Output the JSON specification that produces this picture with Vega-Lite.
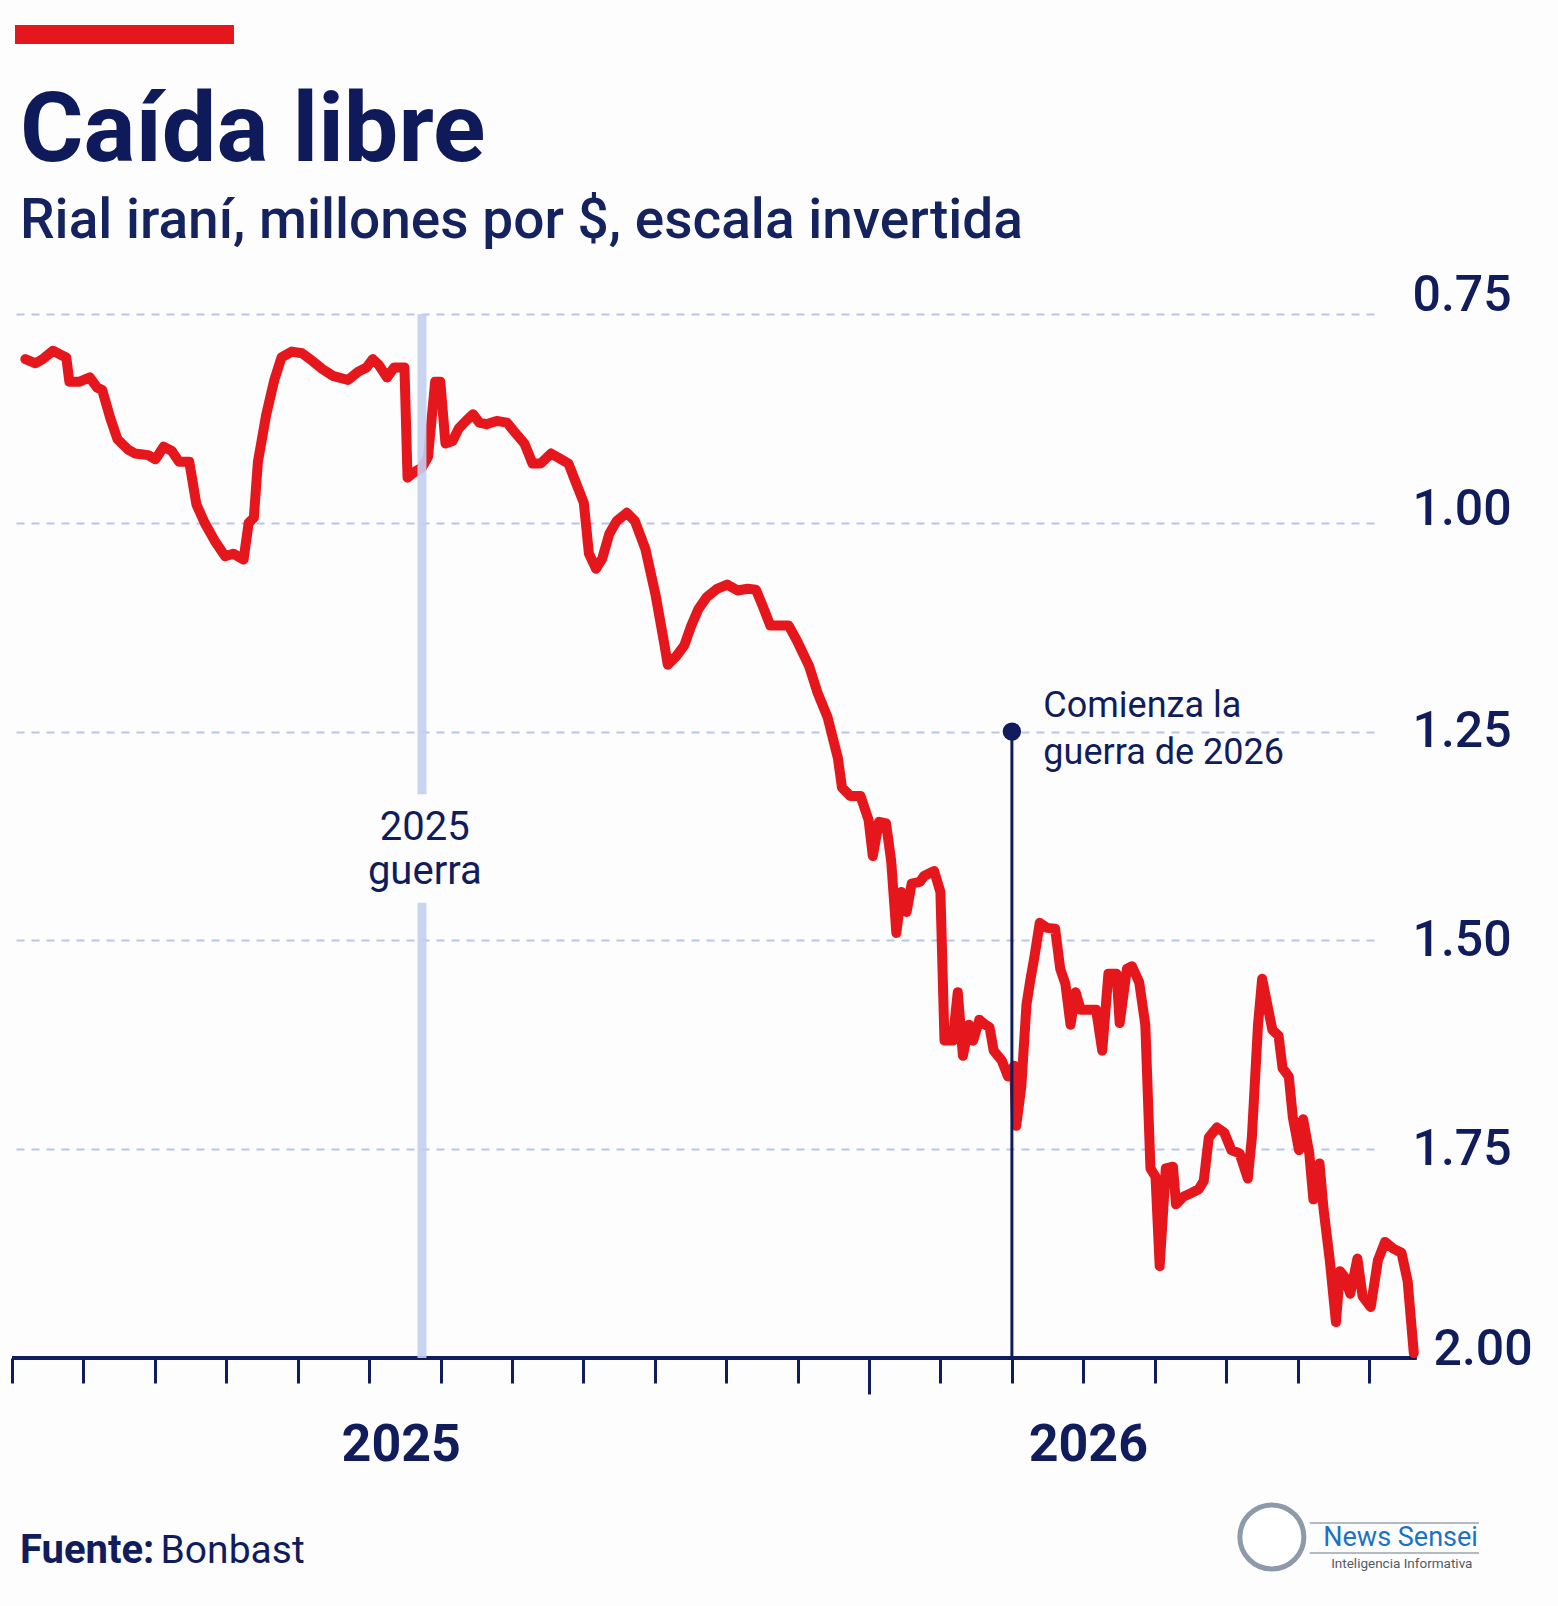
{
  "$schema": "https://vega.github.io/schema/vega-lite/v6.json",
  "autosize": {"type": "none"},
  "width": 1362,
  "height": 1044,
  "padding": {"left": 12, "top": 314, "right": 184, "bottom": 248},
  "background": "#fdfdfe",
  "datasets": {
    "rial": [
      {"x":0.187,"y":0.804},{"x":0.330,"y":0.809},{"x":0.430,"y":0.804},{"x":0.574,"y":0.794},{"x":0.689,"y":0.799},
      {"x":0.760,"y":0.802},{"x":0.803,"y":0.831},{"x":0.947,"y":0.831},{"x":1.090,"y":0.826},{"x":1.191,"y":0.838},
      {"x":1.263,"y":0.841},{"x":1.377,"y":0.875},{"x":1.478,"y":0.900},{"x":1.621,"y":0.912},{"x":1.722,"y":0.917},
      {"x":1.908,"y":0.919},{"x":2.009,"y":0.924},{"x":2.123,"y":0.909},{"x":2.238,"y":0.914},{"x":2.339,"y":0.927},
      {"x":2.482,"y":0.927},{"x":2.582,"y":0.978},{"x":2.697,"y":1.000},{"x":2.841,"y":1.022},{"x":2.984,"y":1.040},
      {"x":3.099,"y":1.037},{"x":3.242,"y":1.044},{"x":3.314,"y":1.000},{"x":3.386,"y":0.994},{"x":3.443,"y":0.927},
      {"x":3.558,"y":0.871},{"x":3.673,"y":0.829},{"x":3.773,"y":0.802},{"x":3.917,"y":0.795},{"x":4.060,"y":0.797},
      {"x":4.204,"y":0.806},{"x":4.347,"y":0.816},{"x":4.491,"y":0.824},{"x":4.706,"y":0.829},{"x":4.849,"y":0.819},
      {"x":4.964,"y":0.814},{"x":5.050,"y":0.804},{"x":5.136,"y":0.811},{"x":5.251,"y":0.826},{"x":5.351,"y":0.814},
      {"x":5.495,"y":0.814},{"x":5.538,"y":0.946},{"x":5.638,"y":0.939},{"x":5.739,"y":0.934},{"x":5.825,"y":0.921},
      {"x":5.925,"y":0.831},{"x":5.997,"y":0.831},{"x":6.069,"y":0.905},{"x":6.169,"y":0.902},{"x":6.255,"y":0.887},
      {"x":6.356,"y":0.878},{"x":6.456,"y":0.870},{"x":6.542,"y":0.880},{"x":6.643,"y":0.882},{"x":6.786,"y":0.878},
      {"x":6.930,"y":0.880},{"x":7.073,"y":0.895},{"x":7.174,"y":0.905},{"x":7.288,"y":0.929},{"x":7.403,"y":0.929},
      {"x":7.547,"y":0.917},{"x":7.690,"y":0.924},{"x":7.791,"y":0.929},{"x":7.891,"y":0.951},{"x":8.006,"y":0.976},
      {"x":8.078,"y":1.037},{"x":8.178,"y":1.055},{"x":8.264,"y":1.043},{"x":8.364,"y":1.013},{"x":8.465,"y":0.998},
      {"x":8.608,"y":0.988},{"x":8.723,"y":0.998},{"x":8.867,"y":1.031},{"x":9.010,"y":1.086},{"x":9.125,"y":1.141},
      {"x":9.182,"y":1.170},{"x":9.297,"y":1.160},{"x":9.412,"y":1.147},{"x":9.512,"y":1.123},{"x":9.613,"y":1.103},
      {"x":9.727,"y":1.089},{"x":9.871,"y":1.079},{"x":10.014,"y":1.074},{"x":10.158,"y":1.081},{"x":10.301,"y":1.079},
      {"x":10.416,"y":1.080},{"x":10.517,"y":1.101},{"x":10.617,"y":1.123},{"x":10.760,"y":1.123},{"x":10.875,"y":1.123},
      {"x":10.990,"y":1.141},{"x":11.162,"y":1.172},{"x":11.277,"y":1.203},{"x":11.420,"y":1.233},{"x":11.564,"y":1.282},
      {"x":11.621,"y":1.317},{"x":11.736,"y":1.327},{"x":11.880,"y":1.327},{"x":11.994,"y":1.356},{"x":12.052,"y":1.399},
      {"x":12.138,"y":1.358},{"x":12.238,"y":1.360},{"x":12.310,"y":1.405},{"x":12.382,"y":1.491},{"x":12.453,"y":1.442},
      {"x":12.525,"y":1.466},{"x":12.597,"y":1.432},{"x":12.712,"y":1.430},{"x":12.769,"y":1.423},{"x":12.912,"y":1.417},
      {"x":12.999,"y":1.442},{"x":13.056,"y":1.620},{"x":13.171,"y":1.620},{"x":13.242,"y":1.562},{"x":13.314,"y":1.638},
      {"x":13.400,"y":1.601},{"x":13.458,"y":1.620},{"x":13.544,"y":1.595},{"x":13.630,"y":1.601},{"x":13.687,"y":1.604},
      {"x":13.745,"y":1.632},{"x":13.859,"y":1.644},{"x":13.945,"y":1.663},{"x":14.032,"y":1.650},{"x":14.060,"y":1.722},
      {"x":14.132,"y":1.675},{"x":14.204,"y":1.577},{"x":14.261,"y":1.546},{"x":14.319,"y":1.518},{"x":14.390,"y":1.479},
      {"x":14.491,"y":1.485},{"x":14.605,"y":1.486},{"x":14.677,"y":1.534},{"x":14.749,"y":1.552},{"x":14.821,"y":1.601},
      {"x":14.892,"y":1.562},{"x":14.964,"y":1.583},{"x":15.065,"y":1.583},{"x":15.179,"y":1.583},{"x":15.265,"y":1.632},
      {"x":15.351,"y":1.540},{"x":15.466,"y":1.540},{"x":15.509,"y":1.599},{"x":15.610,"y":1.534},{"x":15.681,"y":1.531},
      {"x":15.782,"y":1.550},{"x":15.868,"y":1.601},{"x":15.940,"y":1.773},{"x":16.011,"y":1.783},{"x":16.069,"y":1.890},
      {"x":16.155,"y":1.773},{"x":16.255,"y":1.771},{"x":16.298,"y":1.816},{"x":16.399,"y":1.807},{"x":16.499,"y":1.803},
      {"x":16.614,"y":1.798},{"x":16.686,"y":1.788},{"x":16.757,"y":1.736},{"x":16.872,"y":1.724},{"x":16.973,"y":1.730},
      {"x":17.073,"y":1.751},{"x":17.188,"y":1.755},{"x":17.303,"y":1.785},{"x":17.360,"y":1.736},{"x":17.446,"y":1.601},
      {"x":17.504,"y":1.546},{"x":17.590,"y":1.583},{"x":17.647,"y":1.607},{"x":17.733,"y":1.614},{"x":17.790,"y":1.653},
      {"x":17.877,"y":1.663},{"x":17.934,"y":1.712},{"x":18.020,"y":1.751},{"x":18.077,"y":1.714},{"x":18.164,"y":1.755},
      {"x":18.221,"y":1.810},{"x":18.307,"y":1.767},{"x":18.364,"y":1.822},{"x":18.451,"y":1.883},{"x":18.537,"y":1.957},
      {"x":18.594,"y":1.896},{"x":18.651,"y":1.902},{"x":18.737,"y":1.923},{"x":18.838,"y":1.881},{"x":18.910,"y":1.926},
      {"x":19.024,"y":1.939},{"x":19.125,"y":1.883},{"x":19.225,"y":1.861},{"x":19.340,"y":1.869},{"x":19.455,"y":1.874},
      {"x":19.541,"y":1.908},{"x":19.627,"y":1.994}
    ]
  },
  "encoding": {
    "x": {
      "field": "x",
      "type": "quantitative",
      "scale": {"domain": [0, 19.07], "nice": false, "zero": false},
      "axis": {
        "orient": "bottom",
        "values": [0,1,2,3,4,5,6,7,8,9,10,11,12,13,14,15,16,17,18,19],
        "labels": false,
        "domain": false,
        "grid": false,
        "ticks": true,
        "tickColor": "#101c5c",
        "tickWidth": 3,
        "tickSize": {"condition": {"test": "datum.value === 12", "value": 36}, "value": 25},
        "title": null
      }
    },
    "y": {
      "field": "y",
      "type": "quantitative",
      "scale": {"domain": [0.75, 2.0], "reverse": true, "nice": false, "zero": false},
      "axis": {
        "orient": "right",
        "values": [0.75, 1, 1.25, 1.5, 1.75, 2],
        "format": ".2f",
        "domain": false,
        "ticks": false,
        "grid": true,
        "gridColor": "#b9c6ec",
        "gridDash": [8, 7],
        "gridWidth": 2,
        "labelFont": "Roboto",
        "labelFontSize": 50,
        "labelFontWeight": 500,
        "labelColor": "#101c5c",
        "labelAlign": "left",
        "labelBaseline": "middle",
        "labelPadding": {"condition": {"test": "datum.value === 2", "value": 59}, "value": 38},
        "labelOffset": {"condition": [
          {"test": "datum.value === 0.75", "value": -19},
          {"test": "datum.value === 1", "value": -13},
          {"test": "datum.value === 2", "value": -9}
        ], "value": 0},
        "title": null
      }
    }
  },
  "layer": [
    {
      "data": {"values": [{"x": 0, "x2": 19.67, "y": 2.0}]},
      "mark": {"type": "rule", "color": "#101c5c", "strokeWidth": 4},
      "encoding": {"x2": {"field": "x2"}}
    },
    {
      "data": {"name": "rial"},
      "mark": {"type": "line", "color": "#e5171c", "strokeWidth": 10, "strokeJoin": "round", "strokeCap": "round"}
    },
    {
      "data": {"values": [{"x": 5.74, "y": 0.75, "y2": 1.325}, {"x": 5.74, "y": 1.455, "y2": 2.0}]},
      "mark": {"type": "rule", "color": "#c3cff0", "strokeWidth": 9, "opacity": 0.9},
      "encoding": {"y2": {"field": "y2"}}
    },
    {
      "data": {"values": [{"x": 14.0, "y": 1.25, "y2": 2.0}]},
      "mark": {"type": "rule", "color": "#101c5c", "strokeWidth": 3},
      "encoding": {"y2": {"field": "y2"}}
    },
    {
      "data": {"values": [{"x": 14.0, "y": 1.25}]},
      "mark": {"type": "point", "shape": "circle", "filled": true, "color": "#101c5c", "size": 340, "opacity": 1}
    },
    {
      "data": {"values": [{"x": 14.44, "y": 1.2325, "label": "Comienza la\nguerra de 2026"}]},
      "mark": {"type": "text", "font": "Roboto", "fontSize": 36, "color": "#101c5c", "align": "left", "baseline": "alphabetic", "lineBreak": "\n", "lineHeight": 47},
      "encoding": {"text": {"field": "label"}}
    },
    {
      "data": {"values": [{"x": 5.78, "y": 1.3798, "label": "2025\nguerra"}]},
      "mark": {"type": "text", "font": "Roboto", "fontSize": 40, "color": "#101c5c", "align": "center", "baseline": "alphabetic", "lineBreak": "\n", "lineHeight": 44},
      "encoding": {"text": {"field": "label"}}
    },
    {
      "data": {"values": [{"x": 5.45, "y": 2.1233, "label": "2025"}, {"x": 15.07, "y": 2.1233, "label": "2026"}]},
      "mark": {"type": "text", "font": "Roboto", "fontSize": 52, "fontWeight": "bold", "color": "#101c5c", "align": "center", "baseline": "alphabetic"},
      "encoding": {"text": {"field": "label"}}
    },
    {
      "data": {"values": [{"x": 0.042, "x2": 3.108, "y": 0.404, "y2": 0.4267}]},
      "mark": {"type": "rect", "color": "#e5171c"},
      "encoding": {"x2": {"field": "x2"}, "y2": {"field": "y2"}}
    },
    {
      "data": {"values": [{"x": 0.112, "y": 0.5668, "label": "Caída libre"}]},
      "mark": {"type": "text", "font": "Roboto", "fontSize": 97, "fontWeight": "bold", "color": "#0e1a5a", "align": "left", "baseline": "alphabetic"},
      "encoding": {"text": {"field": "label"}}
    },
    {
      "data": {"values": [{"x": 0.112, "y": 0.659, "label": "Rial iraní, millones por $, escala invertida"}]},
      "mark": {"type": "text", "font": "Roboto", "fontSize": 55, "fontWeight": 500, "color": "#14225f", "align": "left", "baseline": "alphabetic"},
      "encoding": {"text": {"field": "label"}}
    },
    {
      "data": {"values": [{"x": 0.112, "y": 2.2455, "label": "Fuente:"}]},
      "mark": {"type": "text", "font": "Roboto", "fontSize": 40, "fontWeight": "bold", "color": "#101c5c", "align": "left", "baseline": "alphabetic"},
      "encoding": {"text": {"field": "label"}}
    },
    {
      "data": {"values": [{"x": 2.08, "y": 2.2455, "label": "Bonbast"}]},
      "mark": {"type": "text", "font": "Roboto", "fontSize": 39, "color": "#101c5c", "align": "left", "baseline": "alphabetic"},
      "encoding": {"text": {"field": "label"}}
    },
    {
      "data": {"values": [{"x": 18.17, "x2": 20.54, "y": 2.1975}, {"x": 18.17, "x2": 20.54, "y": 2.2335}]},
      "mark": {"type": "rule", "color": "#9aa3ad", "strokeWidth": 1.5},
      "encoding": {"x2": {"field": "x2"}}
    },
    {
      "data": {"values": [{"x": 17.64, "y": 2.2143}]},
      "mark": {"type": "point", "shape": "circle", "filled": false, "stroke": "#8d9aab", "strokeWidth": 5, "fill": "#ffffff", "fillOpacity": 1, "size": 4096, "opacity": 1}
    },
    {
      "data": {"values": [{"x": 18.36, "y": 2.225, "label": "News Sensei"}]},
      "mark": {"type": "text", "font": "Roboto", "fontSize": 27, "color": "#1c72c4", "align": "left", "baseline": "alphabetic"},
      "encoding": {"text": {"field": "label"}}
    },
    {
      "data": {"values": [{"x": 18.47, "y": 2.2514, "label": "Inteligencia Informativa"}]},
      "mark": {"type": "text", "font": "Roboto", "fontSize": 13.5, "color": "#555a60", "align": "left", "baseline": "alphabetic"},
      "encoding": {"text": {"field": "label"}}
    }
  ],
  "config": {
    "view": {"stroke": null}
  }
}
